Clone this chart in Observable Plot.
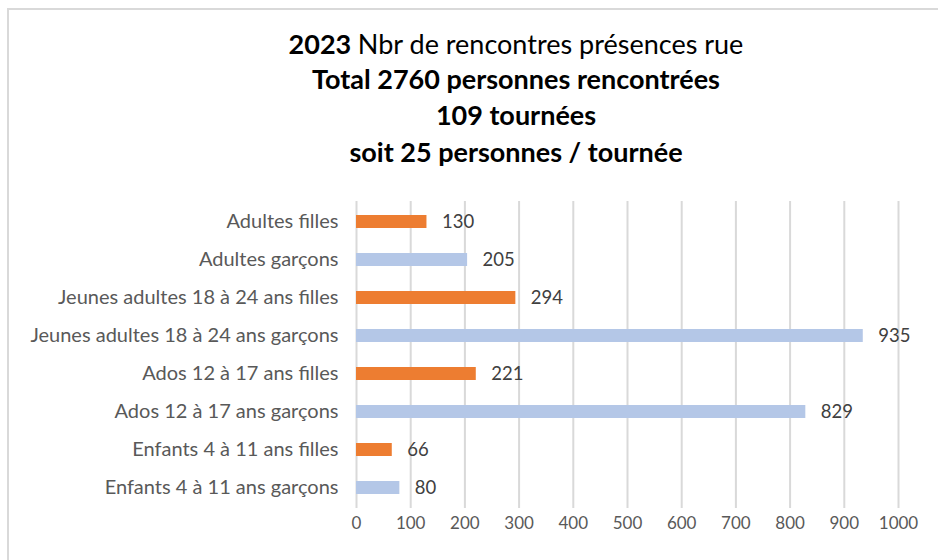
<!DOCTYPE html>
<html>
<head>
<meta charset="utf-8">
<script src="https://cdn.jsdelivr.net/npm/d3@7"></script>
<script src="https://cdn.jsdelivr.net/npm/@observablehq/plot@0.6"></script>
<style>
  html, body { margin: 0; padding: 0; background: #fff; }
  body { width: 938px; height: 560px; position: relative; overflow: hidden; font-family: Lato, "Noto Sans", sans-serif; }
  #frame { position: absolute; left: 7px; top: 8px; width: 1000px; height: 600px; border-left: 2px solid #d9d9d9; border-top: 2px solid #d9d9d9; }
  #title { position: absolute; left: 0; top: 0; width: 1032px; text-align: center; color: #000; font-size: 27px; }
  #title div { position: absolute; left: 0; width: 100%; line-height: 30px; font-weight: bold; white-space: nowrap; }
  #title span.n { font-weight: normal; }
  #chart { position: absolute; left: 0; top: 190px; }
</style>
</head>
<body>
<div id="frame"></div>
<div id="title">
  <div style="top:29px">2023 <span class="n">Nbr de rencontres présences rue</span></div>
  <div style="top:64px">Total 2760 personnes rencontrées</div>
  <div style="top:100px">109 tournées</div>
  <div style="top:137px">soit 25 personnes / tournée</div>
</div>
<div id="chart"></div>
<script>
const categories = [
  "Adultes filles",
  "Adultes garçons",
  "Jeunes adultes 18 à 24 ans filles",
  "Jeunes adultes 18 à 24 ans garçons",
  "Ados 12 à 17 ans filles",
  "Ados 12 à 17 ans garçons",
  "Enfants 4 à 11 ans filles",
  "Enfants 4 à 11 ans garçons"
];
const values = [130, 205, 294, 935, 221, 829, 66, 80];
const genders = ["filles", "garçons", "filles", "garçons", "filles", "garçons", "filles", "garçons"];
const xTicks = [0, 100, 200, 300, 400, 500, 600, 700, 800, 900, 1000];

const data = categories.map((c, i) => ({category: c, value: values[i], gender: genders[i]}));

const chart = Plot.plot({
  width: 938,
  height: 370,
  marginLeft: 356,
  marginRight: 40,
  marginTop: 11,
  marginBottom: 52,
  style: {fontFamily: "Lato, 'Noto Sans', sans-serif", background: "transparent"},
  x: {domain: [0, 1000], ticks: xTicks, label: null},
  y: {domain: categories, label: null, paddingInner: 0.66, paddingOuter: 0.33},
  color: {domain: ["filles", "garçons"], range: ["#ED7D31", "#B4C7E7"]},
  marks: [
    Plot.gridX(xTicks, {stroke: "#d9d9d9", strokeOpacity: 1, strokeWidth: 2}),
    Plot.barX(data, {x: "value", y: "category", fill: "gender"}),
    Plot.text(data, {x: "value", y: "category", text: d => String(d.value), dx: 15, textAnchor: "start", fontSize: 18.5, fill: "#404040"}),
    Plot.axisX(xTicks, {tickSize: 0, tickPadding: 8, fontSize: 17, fill: "#595959", label: null, tickFormat: d => String(d)}),
    Plot.axisY({tickSize: 0, tickPadding: 18, fontSize: 20, fill: "#595959", label: null})
  ]
});
document.getElementById("chart").appendChild(chart);
</script>
</body>
</html>
